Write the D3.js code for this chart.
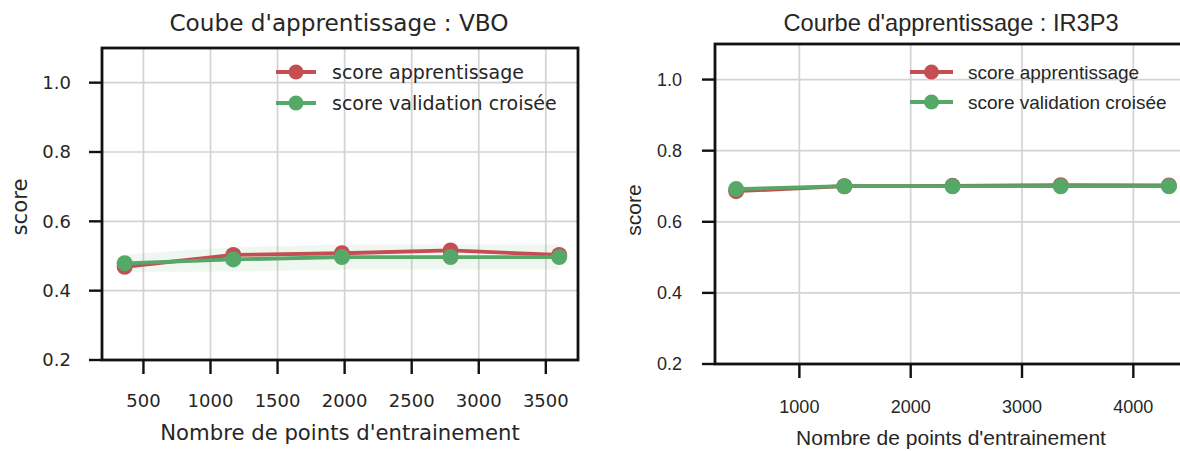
<!DOCTYPE html>
<html>
<head>
<meta charset="utf-8">
<script src="https://cdn.jsdelivr.net/npm/d3@7"></script>
<style>
  html, body { margin: 0; padding: 0; background: #fff; }
  svg { display: block; }
</style>
</head>
<body>
<svg id="chart" width="1180" height="451"></svg>
<script>
// ---------- DATA ----------
const seriesNames = ["score apprentissage", "score validation croisée"];
const seriesColors = ["#C44E52", "#55A868"];
const yTicks = [0.2, 0.4, 0.6, 0.8, 1.0];

// Chart 1 : VBO
const titleVBO = "Coube d'apprentissage : VBO";
const sizesVBO = [360, 1170, 1980, 2790, 3600];
const trainVBO = [0.469, 0.503, 0.508, 0.516, 0.503];
const trainStdVBO = [0.006, 0.004, 0.004, 0.004, 0.003];
const cvVBO = [0.479, 0.490, 0.497, 0.497, 0.497];
const cvStdVBO = [0.025, 0.035, 0.036, 0.036, 0.036];
const xTicksVBO = [500, 1000, 1500, 2000, 2500, 3000, 3500];

// Chart 2 : IR3P3
const titleIR = "Courbe d'apprentissage : IR3P3";
const sizesIR = [432, 1404, 2376, 3348, 4320];
const trainIR = [0.686, 0.700, 0.701, 0.703, 0.702];
const trainStdIR = [0.004, 0.002, 0.002, 0.002, 0.002];
const cvIR = [0.692, 0.700, 0.700, 0.700, 0.700];
const cvStdIR = [0.006, 0.004, 0.004, 0.004, 0.004];
const xTicksIR = [1000, 2000, 3000, 4000];

const xLabel = "Nombre de points d'entrainement";
const yLabel = "score";

// ---------- DRAW ----------
const svg = d3.select("#chart");

function drawChart(cfg) {
  const g = svg.append("g");
  const x = d3.scaleLinear().domain(cfg.xDomain).range([cfg.left, cfg.right]);
  const y = d3.scaleLinear().domain([0.2, 1.1]).range([cfg.bottom, cfg.top]);

  const clipId = "clip" + cfg.id;
  svg.append("defs").append("clipPath").attr("id", clipId)
    .append("rect").attr("x", cfg.left).attr("y", cfg.top)
    .attr("width", cfg.right - cfg.left).attr("height", cfg.bottom - cfg.top);

  // grid
  g.append("g").selectAll("line").data(cfg.xTicks).join("line")
    .attr("x1", d => x(d)).attr("x2", d => x(d))
    .attr("y1", cfg.top).attr("y2", cfg.bottom)
    .attr("stroke", "#d3d3d3").attr("stroke-width", 1.7);
  g.append("g").selectAll("line").data(yTicks).join("line")
    .attr("x1", cfg.left).attr("x2", cfg.right)
    .attr("y1", d => y(d)).attr("y2", d => y(d))
    .attr("stroke", "#d3d3d3").attr("stroke-width", 1.7);

  const plot = g.append("g").attr("clip-path", `url(#${clipId})`);

  const series = [
    { vals: cfg.train, std: cfg.trainStd, color: seriesColors[0] },
    { vals: cfg.cv, std: cfg.cvStd, color: seriesColors[1] }
  ];

  // bands
  series.forEach(s => {
    const area = d3.area()
      .x((d, i) => x(cfg.sizes[i]))
      .y0((d, i) => y(d - s.std[i]))
      .y1((d, i) => y(d + s.std[i]));
    plot.append("path").datum(s.vals).attr("d", area)
      .attr("fill", s.color).attr("fill-opacity", 0.09);
  });

  // lines + markers
  series.forEach(s => {
    const line = d3.line().x((d, i) => x(cfg.sizes[i])).y(d => y(d));
    plot.append("path").datum(s.vals).attr("d", line)
      .attr("fill", "none").attr("stroke", s.color).attr("stroke-width", 3.8);
    plot.append("g").selectAll("circle").data(s.vals).join("circle")
      .attr("cx", (d, i) => x(cfg.sizes[i])).attr("cy", d => y(d))
      .attr("r", 8).attr("fill", s.color);
  });

  // frame
  g.append("rect").attr("x", cfg.left).attr("y", cfg.top)
    .attr("width", cfg.right - cfg.left).attr("height", cfg.bottom - cfg.top)
    .attr("fill", "none").attr("stroke", "#111").attr("stroke-width", 2.8);

  // ticks
  g.append("g").selectAll("line").data(yTicks).join("line")
    .attr("x1", cfg.left - 13).attr("x2", cfg.left)
    .attr("y1", d => y(d)).attr("y2", d => y(d))
    .attr("stroke", "#111").attr("stroke-width", 2.4);
  g.append("g").selectAll("line").data(cfg.xTicks).join("line")
    .attr("x1", d => x(d)).attr("x2", d => x(d))
    .attr("y1", cfg.bottom).attr("y2", cfg.bottom + 14)
    .attr("stroke", "#111").attr("stroke-width", 2.4);

  const txt = { "font-family": cfg.font, fill: "#262626" };
  function styled(sel, size) {
    Object.entries(txt).forEach(([k, v]) => sel.attr(k, v));
    return sel.attr("font-size", size);
  }

  // tick labels
  styled(g.append("g").selectAll("text").data(yTicks).join("text"), cfg.tickSize)
    .attr("x", cfg.yLabelX).attr("y", d => y(d)).attr("dy", "0.36em")
    .attr("text-anchor", "end").text(d => d.toFixed(1));
  styled(g.append("g").selectAll("text").data(cfg.xTicks).join("text"), cfg.tickSize)
    .attr("x", d => x(d)).attr("y", cfg.xTickY).attr("dy", "0.36em")
    .attr("text-anchor", "middle").text(d => d);

  // axis labels
  styled(g.append("text"), cfg.labelSize)
    .attr("x", cfg.xLabelCX).attr("y", cfg.xLabelY).attr("dy", "0.36em")
    .attr("text-anchor", "middle").text(xLabel);
  styled(g.append("text"), cfg.labelSize)
    .attr("transform", `translate(${cfg.yTitleX},${cfg.yTitleY}) rotate(-90)`)
    .attr("dy", "0.36em").attr("text-anchor", "middle").text(yLabel);

  // title
  styled(g.append("text"), cfg.titleSize)
    .attr("x", cfg.titleX).attr("y", cfg.titleY).attr("dy", "0.36em")
    .attr("text-anchor", "middle").text(cfg.title);

  // legend
  seriesNames.forEach((name, i) => {
    const ly = cfg.legendY[i];
    g.append("line").attr("x1", cfg.legendX0).attr("x2", cfg.legendX1)
      .attr("y1", ly).attr("y2", ly)
      .attr("stroke", seriesColors[i]).attr("stroke-width", 3.8);
    g.append("circle").attr("cx", (cfg.legendX0 + cfg.legendX1) / 2).attr("cy", ly)
      .attr("r", 7.5).attr("fill", seriesColors[i]);
    styled(g.append("text"), cfg.legendSize)
      .attr("x", cfg.legendTextX).attr("y", ly).attr("dy", "0.36em").text(name);
  });
}

drawChart({
  id: 1, title: titleVBO, font: "DejaVu Sans",
  sizes: sizesVBO, train: trainVBO, trainStd: trainStdVBO, cv: cvVBO, cvStd: cvStdVBO,
  xTicks: xTicksVBO, xDomain: [191, 3740],
  left: 102, right: 578, top: 48, bottom: 360,
  tickSize: 18, labelSize: 21.2, titleSize: 23.2, legendSize: 19,
  yLabelX: 71, xTickY: 401, xLabelCX: 340, xLabelY: 432, yTitleX: 19, yTitleY: 207,
  titleX: 339, titleY: 23,
  legendX0: 276, legendX1: 316, legendY: [72, 103], legendTextX: 332
});

drawChart({
  id: 2, title: titleIR, font: "Liberation Sans",
  sizes: sizesIR, train: trainIR, trainStd: trainStdIR, cv: cvIR, cvStd: cvStdIR,
  xTicks: xTicksIR, xDomain: [242, 4518],
  left: 715, right: 1191, top: 44, bottom: 364,
  tickSize: 18, labelSize: 21, titleSize: 23.6, legendSize: 19,
  yLabelX: 682, xTickY: 407, xLabelCX: 951, xLabelY: 437, yTitleX: 633, yTitleY: 210,
  titleX: 951, titleY: 23,
  legendX0: 910, legendX1: 953, legendY: [72, 102], legendTextX: 968
});
</script>
</body>
</html>
